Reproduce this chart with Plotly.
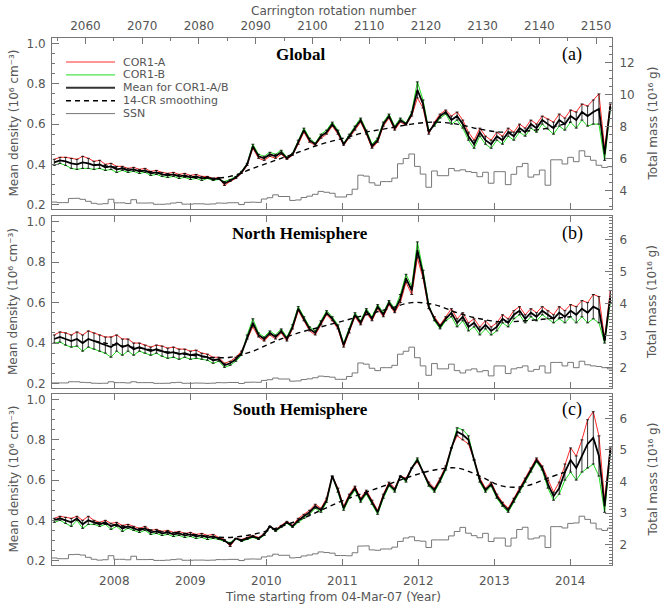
import numpy as np
import plotly.graph_objects as go

# ---------------- data (one value per Carrington rotation) ----------------
cr = list(range(2054, 2153))

glob_a = [0.425,0.435,0.435,0.430,0.425,0.440,0.430,0.415,0.420,0.400,
          0.405,0.390,0.390,0.380,0.385,0.375,0.380,0.365,0.370,0.360,
          0.355,0.360,0.350,0.355,0.345,0.350,0.340,0.340,0.330,0.335,
          0.295,0.315,0.330,0.355,0.395,0.480,0.430,0.420,0.440,0.430,
          0.450,0.425,0.445,0.500,0.560,0.510,0.495,0.530,0.550,0.590,
          0.550,0.495,0.530,0.570,0.610,0.550,0.480,0.510,0.590,0.630,
          0.570,0.610,0.595,0.640,0.730,0.680,0.550,0.610,0.650,0.670,
          0.640,0.660,0.620,0.560,0.520,0.580,0.540,0.520,0.560,0.540,
          0.580,0.560,0.600,0.580,0.620,0.600,0.640,0.625,0.610,0.650,
          0.630,0.670,0.660,0.700,0.690,0.720,0.750,0.480,0.700]
glob_b = [0.395,0.405,0.395,0.380,0.375,0.380,0.380,0.375,0.380,0.370,
          0.375,0.360,0.370,0.360,0.365,0.355,0.360,0.345,0.350,0.340,
          0.335,0.340,0.330,0.335,0.325,0.330,0.320,0.330,0.320,0.325,
          0.315,0.325,0.340,0.365,0.405,0.500,0.450,0.440,0.460,0.450,
          0.470,0.435,0.455,0.520,0.580,0.530,0.505,0.550,0.570,0.610,
          0.570,0.505,0.550,0.590,0.630,0.570,0.500,0.530,0.610,0.650,
          0.590,0.630,0.605,0.660,0.810,0.720,0.570,0.590,0.630,0.650,
          0.600,0.620,0.580,0.520,0.480,0.540,0.500,0.480,0.520,0.500,
          0.540,0.520,0.560,0.540,0.580,0.560,0.600,0.575,0.550,0.590,
          0.570,0.610,0.580,0.620,0.590,0.600,0.600,0.420,0.680]

north_a = [.44,.455,.45,.44,.455,.44,.46,.45,.44,.43,
           .43,.44,.42,.42,.40,.40,.39,.38,.39,.385,
           .375,.38,.37,.37,.36,.365,.35,.345,.33,.33,
           .30,.31,.33,.36,.42,.48,.43,.41,.44,.42,
           .45,.41,.47,.56,.51,.46,.44,.49,.54,.51,
           .47,.38,.45,.53,.49,.55,.51,.57,.53,.59,
           .55,.60,.70,.64,.82,.72,.57,.53,.49,.53,
           .57,.52,.55,.50,.52,.48,.51,.48,.50,.54,
           .52,.56,.58,.54,.57,.55,.58,.56,.54,.58,
           .56,.59,.58,.61,.60,.64,.63,.42,.66]
north_b = [.40,.405,.39,.38,.385,.36,.38,.37,.36,.35,
           .33,.36,.34,.36,.34,.36,.35,.34,.35,.335,
           .325,.33,.32,.33,.32,.325,.32,.315,.30,.31,
           .28,.29,.31,.34,.44,.52,.45,.43,.46,.44,
           .47,.43,.49,.58,.53,.48,.46,.51,.56,.53,
           .49,.40,.47,.55,.51,.57,.53,.59,.55,.61,
           .57,.64,.74,.68,.90,.76,.59,.51,.47,.51,
           .53,.48,.51,.46,.48,.44,.47,.44,.46,.50,
           .48,.52,.54,.50,.53,.51,.54,.52,.50,.52,
           .50,.53,.50,.53,.50,.52,.50,.40,.60]

south_a = [.41,.42,.415,.41,.42,.40,.42,.40,.39,.40,
           .385,.39,.375,.38,.37,.36,.37,.35,.355,.345,
           .35,.34,.345,.335,.34,.33,.335,.325,.33,.315,
           .305,.27,.31,.305,.315,.325,.315,.335,.37,.355,
           .375,.395,.375,.41,.43,.45,.48,.46,.51,.62,
           .56,.47,.53,.57,.51,.55,.50,.45,.53,.59,
           .56,.62,.61,.66,.69,.64,.59,.56,.61,.67,
           .76,.82,.80,.78,.70,.61,.56,.59,.53,.49,
           .46,.51,.56,.61,.66,.71,.67,.60,.54,.59,
           .68,.76,.72,.80,.90,.94,.82,.50,.76]
south_b = [.39,.40,.385,.37,.40,.36,.38,.38,.37,.38,
           .355,.37,.345,.36,.35,.34,.35,.33,.335,.325,
           .33,.32,.325,.315,.32,.31,.315,.305,.31,.305,
           .295,.29,.31,.295,.305,.315,.305,.325,.37,.345,
           .365,.385,.365,.39,.41,.43,.46,.44,.49,.62,
           .54,.45,.51,.55,.49,.53,.48,.43,.51,.57,
           .54,.62,.59,.66,.71,.64,.57,.54,.59,.65,
           .76,.86,.85,.82,.70,.59,.54,.57,.51,.47,
           .44,.49,.54,.59,.64,.69,.65,.56,.50,.53,
           .60,.64,.60,.64,.66,.68,.62,.44,.74]

# 14-CR smoothing (read at every 4th rotation)
smooth_cr = [2061,2065,2069,2073,2077,2081,2085,2089,2093,2097,2101,
             2105,2109,2113,2117,2121,2125,2129,2133,2137,2141,2145]
glob_smooth = [0.40,0.385,0.37,0.355,0.34,0.33,0.34,0.38,0.42,0.46,0.50,
               0.53,0.56,0.58,0.60,0.61,0.60,0.575,0.56,0.565,0.58,0.61]
north_smooth = [0.41,0.39,0.375,0.36,0.345,0.33,0.33,0.36,0.41,0.45,0.48,
                0.51,0.54,0.57,0.60,0.59,0.55,0.52,0.505,0.51,0.52,0.53]
south_smooth = [0.39,0.375,0.36,0.345,0.335,0.32,0.315,0.33,0.36,0.40,0.45,
                0.50,0.54,0.58,0.62,0.65,0.66,0.62,0.57,0.57,0.61,0.65]

# sunspot numbers per rotation: total, northern, southern
ssn_total = [4.8,3.7,3.7,11.7,12.0,10.0,6.2,2.4,0.9,1.7,
             10.1,3.3,3.3,2.1,9.3,2.9,2.9,3.1,0.5,0.5,
             1.1,2.9,4.1,0.8,0.8,1.5,1.4,0.7,1.2,2.9,
             2.6,3.5,3.5,0.0,4.2,4.6,4.2,10.6,13.1,18.6,
             15.4,15.4,7.9,8.8,13.5,16.1,19.6,25.2,23.5,21.6,
             14.5,14.5,19.0,29.4,56.2,54.4,41.6,37.0,43.9,43.9,
             50.6,78.0,88.0,96.7,73.0,58.3,33.1,64.2,55.2,55.2,
             69.0,64.5,66.5,63.0,61.4,53.3,61.8,40.8,62.9,62.9,
             38.1,57.9,72.4,78.7,52.5,57.0,66.0,37.0,85.6,85.6,
             77.6,90.3,82.0,102.8,92.2,84.7,75.2,71.0,72.5]
ssn_north = [1.0,1.0,1.0,3.0,3.0,2.0,1.5,0.5,0.3,0.5,
             3.0,1.5,1.5,1.0,3.0,1.5,1.5,1.5,0.3,0.3,
             0.5,1.5,2.0,0.4,0.4,0.8,0.7,0.3,0.6,1.5,
             1.3,1.8,1.8,0.0,2.1,2.3,2.1,5.3,6.5,9.3,
             7.7,7.7,4.0,4.4,6.8,8.0,9.8,12.6,11.8,10.8,
             7.2,7.2,12.0,18.0,35.0,33.0,26.0,22.0,27.0,27.0,
             31.0,50.0,55.0,62.0,44.0,30.0,14.0,34.0,25.0,25.0,
             33.0,22.0,18.0,23.0,25.0,20.0,22.0,13.0,30.0,30.0,
             17.0,25.0,27.0,30.0,21.0,24.0,30.0,18.0,36.0,36.0,
             30.0,36.0,27.0,38.0,32.0,30.0,29.0,27.0,25.0]
ssn_south = [3.8,2.7,2.7,8.7,9.0,8.0,4.7,1.9,0.6,1.2,
             7.1,1.8,1.8,1.1,6.3,1.4,1.4,1.6,0.2,0.2,
             0.6,1.4,2.1,0.4,0.4,0.7,0.7,0.4,0.6,1.4,
             1.3,1.7,1.7,0.0,2.1,2.3,2.1,5.3,6.6,9.3,
             7.7,7.7,3.9,4.4,6.7,8.1,9.8,12.6,11.7,10.8,
             7.3,7.3,7.0,11.4,21.2,21.4,15.6,15.0,16.9,16.9,
             19.6,28.0,33.0,34.7,29.0,28.3,19.1,30.2,30.2,30.2,
             36.0,42.5,48.5,40.0,36.4,33.3,39.8,27.8,32.9,32.9,
             21.1,32.9,45.4,48.7,31.5,33.0,36.0,19.0,49.6,49.6,
             47.6,54.3,55.0,64.8,60.2,54.7,46.2,44.0,47.5]

year_labels = [2008, 2009, 2010, 2011, 2012, 2013, 2014]
cr_labels = [2060, 2070, 2080, 2090, 2100, 2110, 2120, 2130, 2140, 2150]

# time conversion: CR 2054 starts 04-Mar-2007; one rotation = 27.2753 d
CR0, T0, CR_YR = 2054, 2007.172, 27.2753 / 365.25
year_cr = [CR0 + (y - T0) / CR_YR for y in year_labels]

XR = [2054.1, 2152.8]
YR = [0.178, 1.028]
mass_rng = [[2.855, 13.548], [1.359, 6.748], [1.356, 6.77]]
ssn_rng = [[-8.5, 318.5], [-7.6, 285.5], [-6.5, 243.5]]
domains = [[0.6755, 1.0], [0.3359, 0.6622], [0.0, 0.3245]]

RED, GREEN, GRAY = "#ff2a2a", "#22dd22", "#777777"
TXT = "#555555"
FONT = "DejaVu Sans"

xc = np.array(cr) + 0.5
xstep = np.append(cr, cr[-1] + 1)
xs = np.array(smooth_cr) + 0.5

panels = [
    (glob_a, glob_b, glob_smooth, ssn_total),
    (north_a, north_b, north_smooth, ssn_north),
    (south_a, south_b, south_smooth, ssn_south),
]

fig = go.Figure()
for i, (A, B, S, ssn) in enumerate(panels):
    k = i + 1
    xa = "x" if k == 1 else f"x{k}"
    ya = "y" if k == 1 else f"y{k}"
    yssn = f"y{k + 6}"
    ymass = f"y{k + 3}"
    A = np.array(A); B = np.array(B)
    mean = (A + B) / 2
    err = np.abs(A - B) / 2
    fig.add_trace(go.Scatter(x=xstep, y=np.append(ssn, ssn[-1]), xaxis=xa, yaxis=yssn,
                             mode="lines", line=dict(color=GRAY, width=1, shape="hv"),
                             showlegend=False, hoverinfo="skip"))
    fig.add_trace(go.Scatter(x=xc, y=A, xaxis=xa, yaxis=ya, mode="lines",
                             line=dict(color=RED, width=1), showlegend=False))
    fig.add_trace(go.Scatter(x=xc, y=B, xaxis=xa, yaxis=ya, mode="lines",
                             line=dict(color=GREEN, width=1), showlegend=False))
    fig.add_trace(go.Scatter(x=xc, y=mean, xaxis=xa, yaxis=ya, mode="lines",
                             line=dict(color="black", width=1.8),
                             error_y=dict(type="data", array=err, color="black",
                                          thickness=0.8, width=1.5),
                             showlegend=False))
    fig.add_trace(go.Scatter(x=xs, y=S, xaxis=xa, yaxis=ya, mode="lines",
                             line=dict(color="black", width=1.4, dash="5px,4px", shape="spline"),
                             showlegend=False))
    fig.add_trace(go.Scatter(x=[XR[0]], y=[mass_rng[i][0]], xaxis=xa, yaxis=ymass, mode="markers",
                             marker=dict(opacity=0), showlegend=False, hoverinfo="skip"))

tickfont = dict(family=FONT, size=12, color=TXT)
layout = dict(width=665, height=605, plot_bgcolor="white", paper_bgcolor="white",
              margin=dict(l=52, r=53, t=38, b=40), showlegend=False)

for i in range(3):
    k = i + 1
    xkey = "xaxis" if k == 1 else f"xaxis{k}"
    ykey = "yaxis" if k == 1 else f"yaxis{k}"
    ya = "y" if k == 1 else f"y{k}"
    xa = "x" if k == 1 else f"x{k}"
    layout[xkey] = dict(range=XR, anchor=ya, tickvals=year_cr, ticktext=[str(y) for y in year_labels],
                        ticks="inside", ticklen=6, tickcolor=GRAY, showline=True, linecolor=GRAY,
                        mirror=True if k == 1 else "ticks", showgrid=False, zeroline=False,
                        showticklabels=(k == 3), tickfont=tickfont, ticklabelstandoff=5)
    if k > 1:
        layout[xkey]["matches"] = "x"
    layout[ykey] = dict(domain=domains[i], range=YR, anchor=xa, tickvals=[0.2, 0.4, 0.6, 0.8, 1.0],
                        ticktext=["0.2", "0.4", "0.6", "0.8", "1.0"],
                        ticks="inside", ticklen=7, tickcolor=GRAY, showline=True, linecolor=GRAY,
                        showgrid=False, zeroline=False, tickfont=tickfont, ticklabelstandoff=3,
                        minor=dict(dtick=0.05, tick0=0, ticks="inside", ticklen=3, tickcolor=GRAY))
    mk = f"yaxis{k + 3}"
    layout[mk] = dict(overlaying=ya, side="right", anchor=xa, range=mass_rng[i],
                      dtick=2 if k == 1 else 1, tick0=0, ticks="inside", ticklen=7, tickcolor=GRAY,
                      showline=True, linecolor=GRAY, showgrid=False, zeroline=False,
                      tickfont=tickfont, ticklabelstandoff=4, ticklabeloverflow="allow",
                      showticklabels=True,
                      minor=dict(dtick=0.5 if k == 1 else 0.1, tick0=0, ticks="inside",
                                 ticklen=3, tickcolor=GRAY))
    sk = f"yaxis{k + 6}"
    layout[sk] = dict(overlaying=ya, range=ssn_rng[i], visible=False, anchor=xa,
                      showticklabels=False, ticks="", tickvals=[], showline=False, showgrid=False,
                      zeroline=False)

layout["xaxis4"] = dict(overlaying="x", side="top", anchor="y", range=XR, tickvals=cr_labels,
                        ticks="inside", ticklen=6, tickcolor=GRAY, showline=True, linecolor=GRAY,
                        showgrid=False, zeroline=False, tickfont=tickfont, ticklabelstandoff=2,
                        minor=dict(dtick=5, tick0=2050, ticks="inside", ticklen=3, tickcolor=GRAY))
fig.update_layout(**layout)
fig.add_trace(go.Scatter(x=[XR[0]], y=[0.5], xaxis="x4", yaxis="y", mode="markers",
                         marker=dict(opacity=0), showlegend=False, hoverinfo="skip"))

# ---------------- annotations ----------------
H = 527.0
def py(pix):  # pixel row -> paper y
    return (565 - pix) / H
def px(pix):
    return (pix - 52) / 560.0

ann = []
titles = [("Global", "(a)", 55), ("North Hemisphere", "(b)", 233), ("South Hemisphere", "(c)", 410)]
for t, l, yy in titles:
    ann.append(dict(text=f"<b>{t}</b>", x=px(300), y=py(yy), xref="paper", yref="paper",
                    xanchor="center", yanchor="middle", showarrow=False,
                    font=dict(family="Liberation Serif", size=17, color="black")))
    ann.append(dict(text=l, x=px(572), y=py(yy), xref="paper", yref="paper",
                    xanchor="center", yanchor="middle", showarrow=False,
                    font=dict(family="Liberation Serif", size=18, color="black")))
for yc in [123.5, 302, 479.5]:
    ann.append(dict(text="Mean density (10\u2076 cm\u207b\u00b3)", x=px(13), y=py(yc),
                    xref="paper", yref="paper", textangle=-90, showarrow=False,
                    xanchor="center", yanchor="middle", font=dict(family=FONT, size=12, color=TXT)))
    ann.append(dict(text="Total mass (10\u00b9\u2076 g)", x=px(652), y=py(yc),
                    xref="paper", yref="paper", textangle=-90, showarrow=False,
                    xanchor="center", yanchor="middle", font=dict(family=FONT, size=12, color=TXT)))
ann.append(dict(text="Carrington rotation number", x=px(333), y=py(11), xref="paper", yref="paper",
                xanchor="center", yanchor="middle", showarrow=False,
                font=dict(family=FONT, size=12, color=TXT)))
ann.append(dict(text="Time starting from 04-Mar-07 (Year)", x=px(333), y=py(597), xref="paper",
                yref="paper", xanchor="center", yanchor="middle", showarrow=False,
                font=dict(family=FONT, size=12, color=TXT)))

# legend drawn by hand (IDL style)
leg = [("COR1-A", RED, 1, "solid"), ("COR1-B", GREEN, 1, "solid"),
       ("Mean for COR1-A/B", "#333333", 2, "solid"), ("14-CR smoothing", "black", 1.4, "5px,4px"),
       ("SSN", GRAY, 1, "solid")]
shapes = []
for j, (name, col, w, dash) in enumerate(leg):
    yy = 62 + j * 12.9
    shapes.append(dict(type="line", xref="paper", yref="paper", x0=px(66), x1=px(115),
                       y0=py(yy), y1=py(yy), line=dict(color=col, width=w, dash=dash)))
    ann.append(dict(text=name, x=px(122), y=py(yy), xref="paper", yref="paper", xanchor="left",
                    yanchor="middle", showarrow=False, borderpad=0,
                    font=dict(family=FONT, size=11, color=TXT)))
fig.update_layout(annotations=ann, shapes=shapes)

fig.write_html("out.html", config={"displayModeBar": False},
               post_script="document.body.style.margin='0px';")
